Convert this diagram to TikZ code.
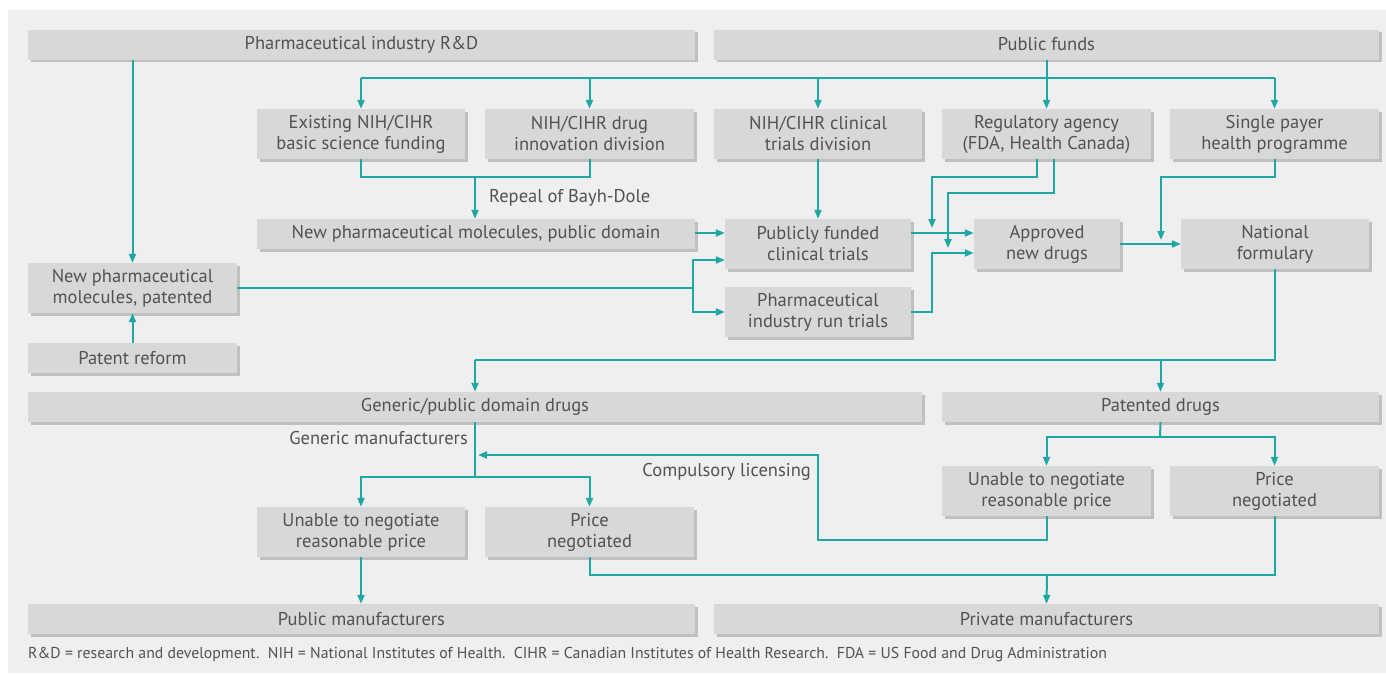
\documentclass[tikz,border=0pt]{standalone}
\usepackage{fontspec}
\setmainfont{PT Sans}
\usepackage{tikz}
\usetikzlibrary{arrows.meta,positioning,shadows}
\definecolor{panelgray}{RGB}{239,239,239}
\definecolor{boxgray}{RGB}{216,216,216}
\definecolor{shadowgray}{RGB}{192,192,192}
\definecolor{arrowteal}{RGB}{30,168,165}
\definecolor{textgray}{RGB}{82,82,82}

\begin{document}
\begin{tikzpicture}[
    x=1pt, y=-1pt,
    every node/.style={font=\fontsize{18.5}{21}\selectfont, text=textgray},
    box/.style={fill=boxgray, inner sep=0pt, align=center, minimum height=50pt,
                drop shadow={shadow xshift=2.5pt, shadow yshift=-2.5pt,
                             fill=shadowgray, opacity=1}},
    bar/.style={box, minimum height=30pt},
    link/.style={draw=arrowteal, line width=2pt},
    arrow/.style={link, -{Triangle[length=9pt, width=7pt]}},
    note/.style={inner sep=0pt},
]
    \useasboundingbox (0,0) rectangle (1386,673);
    \fill[panelgray] (8,10) rectangle (1386,673);

    % top row
    \node[bar, minimum width=667pt] (rd) at (361.5,44.5) {Pharmaceutical industry R\&D};
    \node[bar, minimum width=665pt] (funds) at (1046.5,44.5) {Public funds};

    % funding bodies
    \node[box, minimum width=208pt] (basic) at (361,134) {Existing NIH/CIHR\\basic science funding};
    \node[box, minimum width=209pt] (innov) at (589.5,134) {NIH/CIHR drug\\innovation division};
    \node[box, minimum width=208pt] (ctdiv) at (818,134) {NIH/CIHR clinical\\trials division};
    \node[box, minimum width=209pt] (reg) at (1046.5,134) {Regulatory agency\\(FDA, Health Canada)};
    \node[box, minimum width=209pt] (payer) at (1274.5,134) {Single payer\\health programme};

    % molecules and trials
    \node[bar, minimum width=438pt] (pubdom) at (476,234) {New pharmaceutical molecules, public domain};
    \node[box, minimum width=186pt] (pft) at (818,244) {Publicly funded\\clinical trials};
    \node[box, minimum width=186pt] (irt) at (818,312) {Pharmaceutical\\industry run trials};
    \node[box, minimum width=146pt] (appr) at (1047,244) {Approved\\new drugs};
    \node[box, minimum width=188pt] (form) at (1275,244) {National\\formulary};
    \node[box, minimum width=209pt] (pat) at (132.5,288) {New pharmaceutical\\molecules, patented};
    \node[bar, minimum width=209pt] (reform) at (132.5,358) {Patent reform};

    % drugs
    \node[bar, minimum width=894pt] (generic) at (475,407) {Generic/public domain drugs};
    \node[bar, minimum width=437pt] (patd) at (1160.5,407) {Patented drugs};
    \node[box, minimum width=208pt] (lunable) at (361,532) {Unable to negotiate\\reasonable price};
    \node[box, minimum width=209pt] (lprice) at (589.5,532) {Price\\negotiated};
    \node[box, minimum width=209pt] (runable) at (1046.5,491) {Unable to negotiate\\reasonable price};
    \node[box, minimum width=209pt] (rprice) at (1274.5,491) {Price\\negotiated};

    % manufacturers
    \node[bar, minimum width=667pt] (pubman) at (361.5,619) {Public manufacturers};
    \node[bar, minimum width=665pt] (privman) at (1046.5,619) {Private manufacturers};

    % junctions
    \coordinate (fork) at (1047,78);
    \coordinate (bd) at (475,177);
    \coordinate (split) at (693,288);
    \coordinate (irtup) at (932,253);
    \coordinate (rega) at (932,177);
    \coordinate (regb) at (948,193);
    \coordinate (payerj) at (1161,177);
    \coordinate (dist) at (475,360);
    \coordinate (gm) at (475,477);
    \coordinate (pd) at (1160,437);
    \coordinate (cl1) at (818,540);
    \coordinate (cl2) at (478,455);
    \coordinate (pm) at (1047,575);

    % public funds
    \draw[link] (funds.south -| fork) -- (fork);
    \draw[link] (fork -| basic.north) -- (fork -| payer.north);
    \foreach \n in {basic,innov,ctdiv,reg,payer}
        \draw[arrow] (fork -| \n.north) -- (\n.north);

    % patents
    \draw[arrow] (rd.south -| pat.north) -- (pat.north);
    \draw[arrow] (reform.north) -- (pat.south);
    \draw[link] (pat.east) -- (split);
    \draw[arrow] (split) |- ([yshift=-16pt]pft.west);
    \draw[arrow] (split) |- (irt.west);

    % public domain
    \draw[link] (basic.south) |- (bd) -| (innov.south);
    \draw[arrow] (bd) -- (bd |- pubdom.north);
    \node[note, anchor=west] at (489,198) {Repeal of Bayh-Dole};
    \draw[arrow] ([yshift=1pt]pubdom.east) -- ([yshift=1pt]pubdom.east -| pft.west);
    \draw[arrow] (ctdiv.south) -- (pft.north);

    % approval
    \draw[arrow] ([yshift=11pt]pft.east) -- ([yshift=11pt]appr.west);
    \draw[arrow] (irt.east) -| (irtup) -- (irtup -| appr.west);
    \draw[arrow] ([xshift=-10pt]reg.south) |- (rega) -- ++(0,51);
    \draw[arrow] ([xshift=7pt]reg.south) |- (regb) -- ++(0,55);
    \draw[arrow] (appr.east) -- (appr.east -| form.west);
    \draw[arrow] (payer.south) |- (payerj) -- ++(0,63);

    % formulary
    \draw[link] (form.south) |- (dist);
    \draw[arrow] (dist) -- (generic.north);
    \draw[arrow] (dist -| patd.north) -- (patd.north);

    % generic drugs
    \draw[link] (generic.south) -- (gm);
    \node[note, anchor=east] at (468,438) {Generic manufacturers};
    \draw[arrow] (gm) -| (lunable.north);
    \draw[arrow] (gm) -| (lprice.north);
    \draw[arrow] (runable.south) |- (cl1) |- (cl2);
    \node[note, anchor=east] at (811,472) {Compulsory licensing};

    % patented drugs
    \draw[link] (patd.south) -- (pd);
    \draw[arrow] (pd) -| (runable.north);
    \draw[arrow] (pd) -| (rprice.north);

    % manufacturers
    \draw[arrow] (lunable.south) -- (lunable.south |- pubman.north);
    \draw[link] (lprice.south) |- (pm) -| (rprice.south);
    \draw[arrow] (pm) -- (privman.north);

    \node[note, anchor=west, font=\fontsize{15.8}{18}\selectfont] (foot) at (28,655)
        {R\&D = research and development.\ \ NIH = National Institutes of Health.\ \ CIHR = Canadian Institutes of Health Research.\ \ FDA = US Food and Drug Administration};
\end{tikzpicture}
\end{document}
